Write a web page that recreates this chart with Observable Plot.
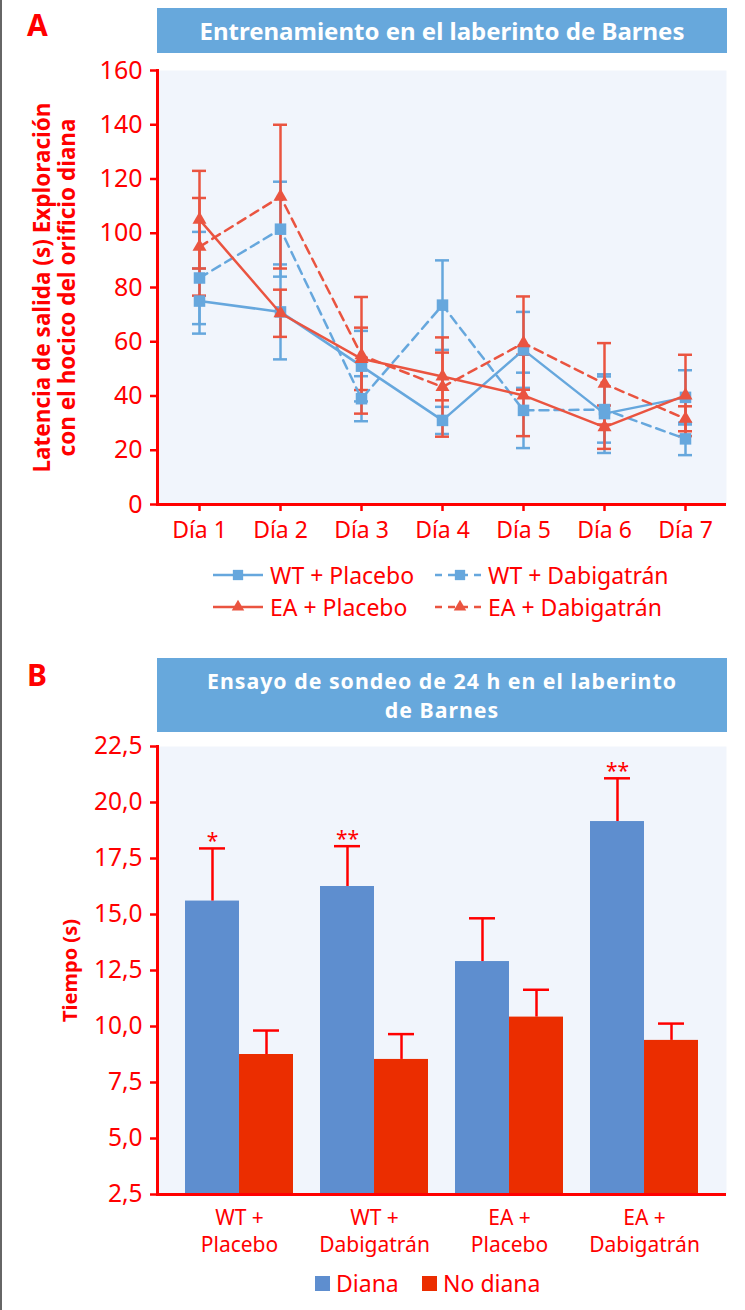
<!DOCTYPE html>
<html>
<head>
<meta charset="utf-8">
<script src="https://cdn.jsdelivr.net/npm/d3@7"></script>
<script src="https://cdn.jsdelivr.net/npm/@observablehq/plot@0.6"></script>
<style>
  html, body { margin: 0; padding: 0; background: #fff; }
  #root { position: relative; width: 745px; height: 1310px; overflow: hidden; font-family: "Noto Sans", "Open Sans", sans-serif; color: #ff0000; }
  .abs { position: absolute; }
  .panel-letter { font-weight: bold; font-size: 30px; line-height: 1; }
  .title-box { background: #67a8dc; color: #fff; font-weight: bold; font-size: 24px; text-align: center; font-family: "Noto Sans", sans-serif; }
  .legend-item { display: flex; align-items: center; font-size: 23px; white-space: nowrap; }
</style>
</head>
<body>
<div id="root"></div>
<script>
// ---------------- DATA ----------------
const days = ["Día 1", "Día 2", "Día 3", "Día 4", "Día 5", "Día 6", "Día 7"];
const seriesNames = ["WT + Placebo", "WT + Dabigatrán", "EA + Placebo", "EA + Dabigatrán"];
const wtPlaceboMean = [75, 71, 51, 31, 57, 33.5, 39.5];
const wtPlaceboErr  = [12, 17.5, 13, 5, 14, 14.5, 10];
const wtDabigMean   = [83.5, 101.5, 39, 73.5, 34.7, 35, 24.2];
const wtDabigErr    = [17, 17.5, 8.3, 16.5, 13.9, 12.2, 6];
const eaPlaceboMean = [105, 70.5, 53.7, 47.2, 40.2, 28.5, 40.2];
const eaPlaceboErr  = [18, 8.7, 11.5, 8.8, 15, 8, 15];
const eaDabigMean   = [95, 113.5, 55, 43.3, 59.5, 44.5, 31.6];
const eaDabigErr    = [18, 26.5, 21.5, 18.3, 17.2, 15, 4.6];
const yTicksA = [0, 20, 40, 60, 80, 100, 120, 140, 160];

const groupLabels = ["WT +\nPlacebo", "WT +\nDabigatrán", "EA +\nPlacebo", "EA +\nDabigatrán"];
const dianaMean   = [15.6, 16.25, 12.9, 19.15];
const dianaErr    = [2.35, 1.8, 1.93, 1.93];
const noDianaMean = [8.75, 8.53, 10.42, 9.38];
const noDianaErr  = [1.07, 1.13, 1.22, 0.75];
const significance = ["*", "**", "", "**"];
const yTicksB = [2.5, 5, 7.5, 10, 12.5, 15, 17.5, 20, 22.5];
const barTypes = ["Diana", "No diana"];

// ---------------- STYLE ----------------
const RED = "#ff0000";
const BG = "#f1f5fc";
const LBLUE = "#66a7dd";
const LRED = "#ea5440";
const BARBLUE = "#5e8ecf";
const BARRED = "#eb2d00";
const FONT = "'Noto Sans', 'Open Sans', sans-serif";

const seriesStyle = [
  {color: LBLUE, dash: null, symbol: "square", r: 6.5},
  {color: LBLUE, dash: "9,6", symbol: "square", r: 6.5},
  {color: LRED, dash: null, symbol: "triangle", r: 5.2},
  {color: LRED, dash: "9,6", symbol: "triangle", r: 5.2}
];
const meansAll = [wtPlaceboMean, wtDabigMean, eaPlaceboMean, eaDabigMean];
const errsAll = [wtPlaceboErr, wtDabigErr, eaPlaceboErr, eaDabigErr];
const seriesRows = seriesNames.map((name, s) =>
  days.map((day, i) => ({series: name, day, mean: meansAll[s][i], err: errsAll[s][i]})));

const root = document.getElementById("root");
function addDiv(cls, css, html) {
  const d = document.createElement("div");
  d.className = "abs " + cls;
  Object.assign(d.style, css);
  if (html != null) d.innerHTML = html;
  root.appendChild(d);
  return d;
}

// left page border
addDiv("", {left: "0px", top: "0px", width: "2px", height: "1310px", background: "#666"});

// ---------------- PANEL A ----------------
addDiv("panel-letter", {left: "27px", top: "10px"}, "A");
addDiv("title-box", {left: "157px", top: "8px", width: "570px", height: "45px", lineHeight: "45px"},
  "Entrenamiento en el laberinto de Barnes");

const marksA = [
  Plot.frame({fill: BG, stroke: null}),
];
seriesRows.forEach((rows, s) => {
  const st = seriesStyle[s];
  marksA.push(Plot.ruleX(rows, {x: "day", y1: d => d.mean - d.err, y2: d => d.mean + d.err, stroke: st.color, strokeWidth: 2.5}));
  marksA.push(Plot.ruleY(rows, {x1: "day", x2: "day", y: d => d.mean + d.err, insetLeft: -7, insetRight: -7, stroke: st.color, strokeWidth: 2.5}));
  marksA.push(Plot.ruleY(rows, {x1: "day", x2: "day", y: d => d.mean - d.err, insetLeft: -7, insetRight: -7, stroke: st.color, strokeWidth: 2.5}));
});
seriesRows.forEach((rows, s) => {
  const st = seriesStyle[s];
  marksA.push(Plot.line(rows, {x: "day", y: "mean", stroke: st.color, strokeWidth: 2.5, strokeDasharray: st.dash}));
  marksA.push(Plot.dot(rows, {x: "day", y: "mean", symbol: st.symbol, r: st.r, fill: st.color, stroke: null}));
});
marksA.push(
  Plot.axisY({ticks: yTicksA, tickSize: 7, tickPadding: 8, strokeWidth: 2.5, fontSize: 25, label: null}),
  Plot.axisX({tickSize: 7, tickPadding: 10, strokeWidth: 2.5, fontSize: 23, label: null}),
  Plot.ruleY([0], {stroke: RED, strokeWidth: 3}),
  Plot.frame({anchor: "left", stroke: RED, strokeWidth: 3}),
  Plot.text(["Latencia de salida (s) Exploración\ncon el hocico del orificio diana"], {
    frameAnchor: "left", text: d => d, rotate: -90, dx: -103, textAnchor: "middle",
    fontSize: 22.5, fontWeight: "bold", lineHeight: 1.12, fill: RED
  })
);

const plotA = Plot.plot({
  width: 745, height: 500,
  marginLeft: 157, marginRight: 19, marginTop: 10, marginBottom: 56,
  style: {color: RED, fontFamily: FONT, background: "transparent", overflow: "visible"},
  x: {type: "point", domain: days, padding: 0.5, label: null},
  y: {domain: [0, 160], label: null},
  marks: marksA
});
const wrapA = addDiv("", {left: "0px", top: "60px"});
wrapA.appendChild(plotA);

// legend A
function lineSwatch(st) {
  const ns = "http://www.w3.org/2000/svg";
  const svg = document.createElementNS(ns, "svg");
  svg.setAttribute("width", 50); svg.setAttribute("height", 16);
  const l = document.createElementNS(ns, "line");
  l.setAttribute("x1", 0); l.setAttribute("x2", 50); l.setAttribute("y1", 8); l.setAttribute("y2", 8);
  l.setAttribute("stroke", st.color); l.setAttribute("stroke-width", 2.5);
  if (st.dash) l.setAttribute("stroke-dasharray", "7,6");
  svg.appendChild(l);
  const p = document.createElementNS(ns, "path");
  const sym = st.symbol === "square" ? d3.symbolSquare : d3.symbolTriangle;
  p.setAttribute("d", d3.symbol(sym, Math.PI * st.r * st.r * 0.8)());
  p.setAttribute("transform", "translate(25,8)");
  p.setAttribute("fill", st.color);
  svg.appendChild(p);
  return svg;
}
const legendPosA = [[213, 560], [435, 560], [213, 592], [435, 592]];
seriesNames.forEach((name, s) => {
  const item = addDiv("legend-item", {left: legendPosA[s][0] + "px", top: legendPosA[s][1] + "px", height: "30px"});
  item.appendChild(lineSwatch(seriesStyle[s]));
  const t = document.createElement("span");
  t.textContent = name;
  t.style.marginLeft = (s % 2 === 0 ? 7 : 3) + "px";
  item.appendChild(t);
});

// ---------------- PANEL B ----------------
addDiv("panel-letter", {left: "27px", top: "660px"}, "B");
addDiv("title-box", {left: "157px", top: "658px", width: "570px", height: "74px", lineHeight: "29px", paddingTop: "8px", boxSizing: "border-box", fontSize: "21.3px", letterSpacing: "1px"},
  "Ensayo de sondeo de 24 h en el laberinto<br>de Barnes");

const mL = 157, mR = 19, W = 745;
const pIn = 0.2, pOut = 0.207;
const stepB = (W - mL - mR) / (groupLabels.length - pIn + 2 * pOut);
const bw = stepB * (1 - pIn);

const barRows = groupLabels.map((g, i) => ({
  group: g, diana: dianaMean[i], dianaErr: dianaErr[i],
  noDiana: noDianaMean[i], noDianaErr: noDianaErr[i], sig: significance[i]
}));
const capW = 26;

const plotB = Plot.plot({
  width: W, height: 540,
  marginLeft: mL, marginRight: mR, marginTop: 10, marginBottom: 82,
  style: {color: RED, fontFamily: FONT, background: "transparent", overflow: "visible"},
  x: {domain: groupLabels, paddingInner: pIn, paddingOuter: pOut, label: null},
  y: {domain: [2.5, 22.5], label: null},
  marks: [
    Plot.frame({fill: BG, stroke: null}),
    Plot.barY(barRows, {x: "group", y1: yTicksB[0], y2: "diana", insetRight: bw / 2, fill: BARBLUE}),
    Plot.barY(barRows, {x: "group", y1: yTicksB[0], y2: "noDiana", insetLeft: bw / 2, fill: BARRED}),
    Plot.ruleX(barRows, {x: "group", y1: "diana", y2: d => d.diana + d.dianaErr, dx: -bw / 4, stroke: RED, strokeWidth: 2.5}),
    Plot.ruleX(barRows, {x: "group", y1: "noDiana", y2: d => d.noDiana + d.noDianaErr, dx: bw / 4, stroke: RED, strokeWidth: 2.5}),
    Plot.tickY(barRows, {x: "group", y: d => d.diana + d.dianaErr, insetLeft: bw / 4 - capW / 2, insetRight: bw * 3 / 4 - capW / 2, stroke: RED, strokeWidth: 2.5}),
    Plot.tickY(barRows, {x: "group", y: d => d.noDiana + d.noDianaErr, insetLeft: bw * 3 / 4 - capW / 2, insetRight: bw / 4 - capW / 2, stroke: RED, strokeWidth: 2.5}),
    Plot.text(barRows, {x: "group", y: d => d.diana + d.dianaErr, text: "sig", dx: -bw / 4, dy: -7, fontSize: 21, fill: RED}),
    Plot.axisY({ticks: yTicksB, tickFormat: d => d.toFixed(1).replace(".", ","), tickSize: 7, tickPadding: 8, strokeWidth: 2.5, fontSize: 24.5, label: null}),
    Plot.axisX({tickSize: 0, tickPadding: 11, fontSize: 21, lineHeight: 1.3, label: null}),
    Plot.ruleY([yTicksB[0]], {stroke: RED, strokeWidth: 3}),
    Plot.frame({anchor: "left", stroke: RED, strokeWidth: 3}),
    Plot.text(["Tiempo (s)"], {
      frameAnchor: "left", text: d => d, rotate: -90, dx: -87, textAnchor: "middle",
      fontSize: 20, fontWeight: "bold", fill: RED
    })
  ]
});
const wrapB = addDiv("", {left: "0px", top: "736px"});
wrapB.appendChild(plotB);

// legend B
const legendColorsB = [BARBLUE, BARRED];
const legendPosB = [315, 422];
barTypes.forEach((name, i) => {
  const item = addDiv("legend-item", {left: legendPosB[i] + "px", top: "1268px", height: "30px", fontSize: "23px"});
  const sw = document.createElement("span");
  Object.assign(sw.style, {display: "inline-block", width: "15px", height: "15px", background: legendColorsB[i], marginRight: "6px"});
  item.appendChild(sw);
  const t = document.createElement("span");
  t.textContent = name;
  item.appendChild(t);
});
</script>
</body>
</html>
